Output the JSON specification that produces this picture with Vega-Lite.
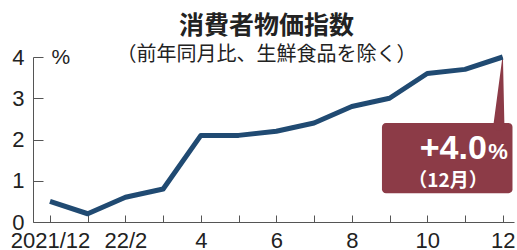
{
  "$schema": "https://vega.github.io/schema/vega-lite/v6.json",
  "width": 481,
  "height": 165,
  "autosize": "none",
  "padding": {"left": 33, "top": 57, "right": 3, "bottom": 28},
  "background": "white",
  "config": {"view": {"stroke": null}, "font": "Noto Sans CJK JP"},
  "title": {
    "text": "消費者物価指数",
    "subtitle": "（前年同月比、生鮮食品を除く）",
    "anchor": "middle",
    "dx": -7,
    "fontSize": 25,
    "fontWeight": "bold",
    "subtitleFontSize": 20,
    "color": "#222222",
    "subtitleColor": "#222222",
    "font": "Noto Sans CJK JP",
    "subtitleFont": "Noto Sans CJK JP",
    "offset": -19,
    "subtitlePadding": 6
  },
  "datasets": {
    "cpi": [
      {"x": 0, "y": 0.5},
      {"x": 1, "y": 0.2},
      {"x": 2, "y": 0.6},
      {"x": 3, "y": 0.8},
      {"x": 4, "y": 2.1},
      {"x": 5, "y": 2.1},
      {"x": 6, "y": 2.2},
      {"x": 7, "y": 2.4},
      {"x": 8, "y": 2.8},
      {"x": 9, "y": 3.0},
      {"x": 10, "y": 3.6},
      {"x": 11, "y": 3.7},
      {"x": 12, "y": 4.0}
    ],
    "box": [{"x": 8.8, "x2": 12.26, "y": 2.4, "y2": 0.7}],
    "pointer": [
      {"x": 12, "y": 4.0, "w": 0.5},
      {"x": 11.9, "y": 2.35, "w": 11}
    ],
    "big": [{"x": 11.58, "y": 1.52, "label": "+4.0"}],
    "pct": [{"x": 11.62, "y": 1.52, "label": "%"}],
    "month": [{"x": 10.55, "y": 1.0, "label": "（12月）"}]
  },
  "encoding": {
    "x": {
      "field": "x",
      "type": "quantitative",
      "scale": {"domain": [-0.45, 12.3], "nice": false, "zero": false},
      "axis": {
        "title": null,
        "values": [0, 1, 2, 3, 4, 5, 6, 7, 8, 9, 10, 11, 12],
        "labelExpr": "datum.value == 0 ? '2021/12' : datum.value == 2 ? '22/2' : (datum.value % 2 == 0 ? '' + datum.value : '')",
        "grid": false,
        "tickSize": -7,
        "labelPadding": 15,
        "labelFontSize": 22,
        "labelFont": "Liberation Sans",
        "labelColor": "#222222",
        "labelOverlap": false,
        "labelFlush": false,
        "domainColor": "#555555",
        "tickColor": "#555555"
      }
    },
    "y": {
      "field": "y",
      "type": "quantitative",
      "scale": {"domain": [0, 4], "nice": false},
      "axis": {
        "values": [0, 1, 2, 3, 4],
        "grid": false,
        "tickSize": -10,
        "labelPadding": 19,
        "labelFontSize": 22,
        "labelFont": "Liberation Sans",
        "labelColor": "#222222",
        "domainColor": "#555555",
        "tickColor": "#555555",
        "title": "%",
        "titleAngle": 0,
        "titleX": 18,
        "titleY": 0,
        "titleAlign": "left",
        "titleBaseline": "middle",
        "titleFontSize": 21,
        "titleFontWeight": "normal",
        "titleFont": "Liberation Sans",
        "titleColor": "#222222"
      }
    }
  },
  "layer": [
    {
      "data": {"name": "box"},
      "mark": {"type": "rect", "color": "#8c3b47", "cornerRadius": 4},
      "encoding": {"x2": {"field": "x2"}, "y2": {"field": "y2"}}
    },
    {
      "data": {"name": "pointer"},
      "mark": {"type": "trail", "color": "#8c3b47"},
      "encoding": {"size": {"field": "w", "type": "quantitative", "scale": null}}
    },
    {
      "data": {"name": "cpi"},
      "mark": {"type": "line", "color": "#204a72", "strokeWidth": 5, "strokeJoin": "round"},
      "encoding": {}
    },
    {
      "data": {"name": "big"},
      "mark": {"type": "text", "color": "white", "fontSize": 34, "fontWeight": "bold", "font": "Liberation Sans", "align": "right", "baseline": "alphabetic"},
      "encoding": {"text": {"field": "label"}}
    },
    {
      "data": {"name": "pct"},
      "mark": {"type": "text", "color": "white", "fontSize": 22, "fontWeight": "bold", "font": "Liberation Sans", "align": "left", "baseline": "alphabetic"},
      "encoding": {"text": {"field": "label"}}
    },
    {
      "data": {"name": "month"},
      "mark": {"type": "text", "color": "white", "fontSize": 19, "fontWeight": "bold", "font": "Noto Sans CJK JP", "align": "center", "baseline": "middle"},
      "encoding": {"text": {"field": "label"}}
    }
  ]
}
